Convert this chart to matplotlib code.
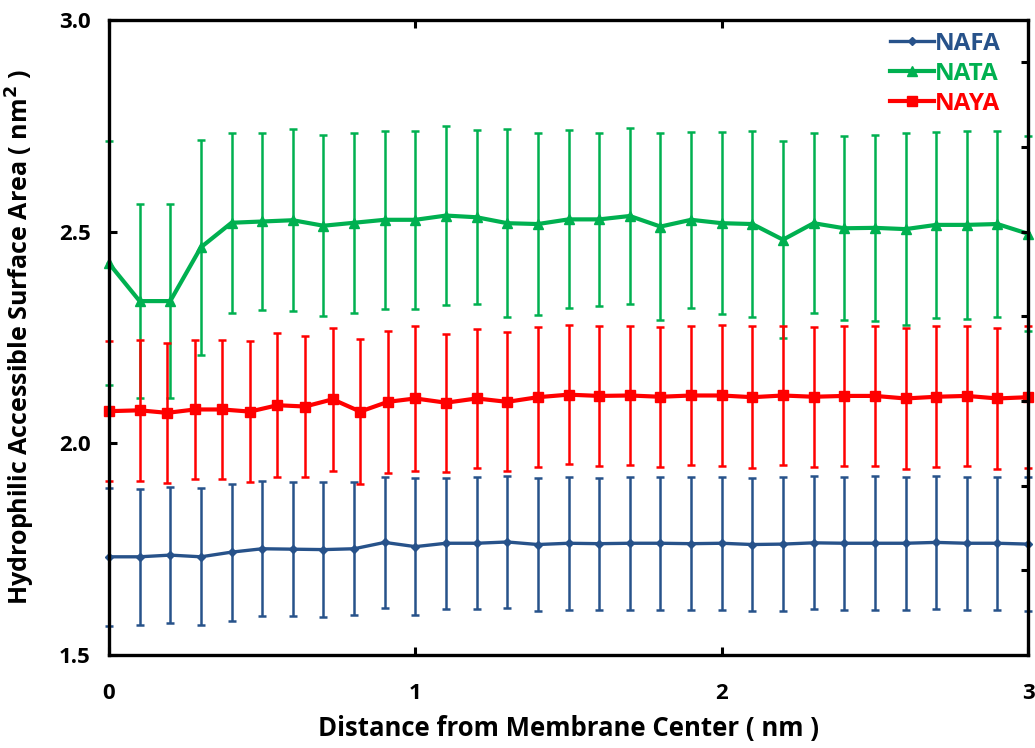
import matplotlib
matplotlib.use("Agg")
import matplotlib.pyplot as plt
import numpy as np

plt.rcParams['font.family'] = ['Open Sans', 'DejaVu Sans']
plt.rcParams['font.weight'] = 'bold'
plt.rcParams['axes.labelweight'] = 'bold'
plt.rcParams['mathtext.default'] = 'bf'

# distance from membrane centre (nm)
x = [round(0.1 * i, 1) for i in range(31)]
# NAYA was sampled on a finer grid between 0.1 and 1.0 nm
x_naya = [0.0, 0.1, 0.19, 0.28, 0.37, 0.46, 0.55, 0.64, 0.73, 0.82, 0.91] + x[10:]

nafa = [1.732, 1.732, 1.736, 1.732, 1.743, 1.751, 1.750, 1.749, 1.751, 1.766,
        1.756, 1.764, 1.764, 1.767, 1.761, 1.764, 1.763, 1.764, 1.764, 1.763,
        1.764, 1.761, 1.762, 1.765, 1.764, 1.764, 1.764, 1.766, 1.764, 1.764, 1.762]
nafa_err = [0.163, 0.161, 0.160, 0.162, 0.162, 0.159, 0.158, 0.160, 0.157, 0.155,
            0.162, 0.155, 0.156, 0.157, 0.156, 0.157, 0.156, 0.157, 0.157, 0.157,
            0.157, 0.157, 0.158, 0.157, 0.157, 0.158, 0.157, 0.157, 0.157, 0.157, 0.158]

nata = [2.425, 2.336, 2.336, 2.463, 2.521, 2.524, 2.527, 2.514, 2.521, 2.528,
        2.528, 2.538, 2.534, 2.520, 2.518, 2.529, 2.529, 2.537, 2.512, 2.528,
        2.520, 2.518, 2.481, 2.520, 2.508, 2.509, 2.506, 2.516, 2.516, 2.518, 2.495]
nata_err = [0.288, 0.230, 0.230, 0.254, 0.212, 0.210, 0.215, 0.214, 0.212, 0.210,
            0.210, 0.212, 0.206, 0.222, 0.216, 0.210, 0.205, 0.207, 0.220, 0.208,
            0.215, 0.220, 0.232, 0.212, 0.217, 0.220, 0.226, 0.220, 0.222, 0.220, 0.230]

naya = [2.076, 2.078, 2.072, 2.080, 2.080, 2.075, 2.090, 2.087, 2.104, 2.075,
        2.098, 2.106, 2.096, 2.106, 2.098, 2.109, 2.115, 2.112, 2.113, 2.110,
        2.113, 2.113, 2.109, 2.113, 2.110, 2.112, 2.112, 2.106, 2.110, 2.112,
        2.106, 2.109]
naya_err = [0.165, 0.166, 0.166, 0.165, 0.165, 0.166, 0.170, 0.167, 0.169, 0.171,
            0.168, 0.171, 0.163, 0.165, 0.164, 0.166, 0.164, 0.166, 0.163, 0.165,
            0.164, 0.166, 0.167, 0.165, 0.165, 0.166, 0.166, 0.166, 0.167, 0.166,
            0.166, 0.167]

c_blue = '#27528A'
c_green = '#00B050'
c_red = '#FF0000'

fig = plt.figure(figsize=(10.35, 7.48), dpi=100)
ax = fig.add_axes([0.1053, 0.1243, 0.888, 0.849])

series = [
    (x, nafa, nafa_err, c_blue, 'D', 4.5, 2.4, 'NAFA'),
    (x, nata, nata_err, c_green, '^', 7, 3.0, 'NATA'),
    (x_naya, naya, naya_err, c_red, 's', 7.5, 3.0, 'NAYA'),
]
handles = []
for xs, ys, es, col, mk, ms, lw, name in series:
    eb = ax.errorbar(xs, ys, yerr=es, color=col, marker=mk, markersize=ms,
                     linewidth=lw, elinewidth=1.8, capsize=3.2, capthick=1.8,
                     label=name, clip_on=False)
    for part in eb.lines[1] + eb.lines[2]:
        part.set_clip_on(False)
    handles.append(eb.lines[0])

ax.set_xlim(0, 3)
ax.set_ylim(1.5, 3.0)
ax.set_xticks([0, 1, 2, 3])
ax.set_yticks([1.5, 2.0, 2.5, 3.0])
ax.set_yticklabels(['1.5', '2.0', '2.5', '3.0'])
ax.tick_params(direction='in', length=6, width=2.2, labelsize=16, top=True)
ax.tick_params(axis='y', pad=13)
ax.tick_params(axis='x', pad=20)
for lbl in ax.get_xticklabels() + ax.get_yticklabels():
    lbl.set_fontweight('bold')

for sp in ax.spines.values():
    sp.set_linewidth(2.4)

# secondary right axis with its own tick spacing
ax2 = ax.twinx()
ax2.set_ylim(1.5, 3.0)
ax2.set_yticks([1.7, 1.9, 2.1, 2.3, 2.5, 2.7, 2.9])
ax2.tick_params(direction='in', length=5, width=2.2, labelright=False)
for sp in ax2.spines.values():
    sp.set_visible(False)

ax.set_xlabel('Distance from Membrane Center ( nm )', fontsize=18.5,
              fontweight='bold', labelpad=8)
ax.set_ylabel('Hydrophilic Accessible Surface Area ( nm$^2$ )',
              fontsize=18, fontweight='bold', labelpad=16)

leg = ax.legend(handles, ['NAFA', 'NATA', 'NAYA'], loc='upper right',
                bbox_to_anchor=(0.981, 0.997), borderaxespad=0,
                frameon=False, prop={'size': 17.5, 'weight': 'bold'},
                handlelength=1.8, handletextpad=0.05, labelspacing=0.25)
for txt, col in zip(leg.get_texts(), [c_blue, c_green, c_red]):
    txt.set_color(col)

fig.savefig('out.png', dpi=100)
